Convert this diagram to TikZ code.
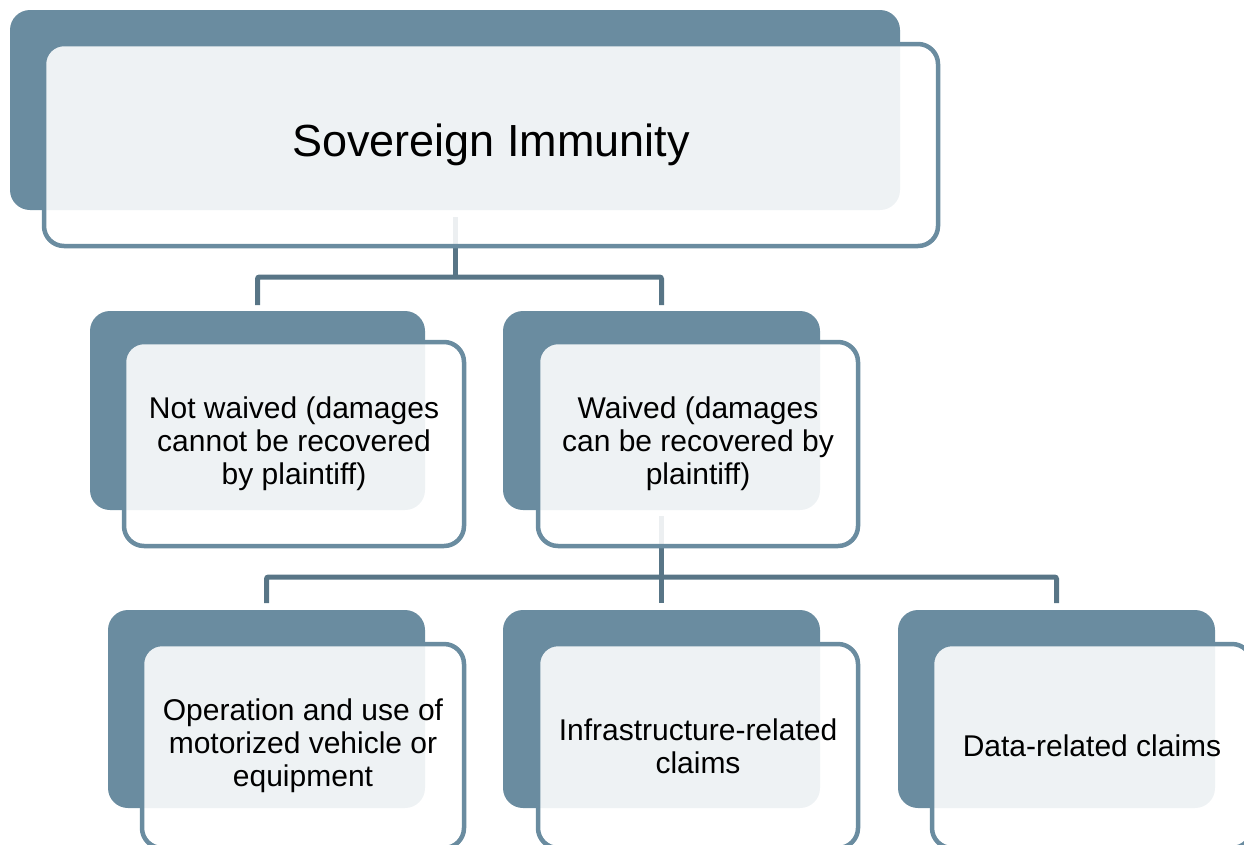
\documentclass[tikz,border=0pt]{standalone}
\usepackage{fontspec}
\setmainfont{Liberation Sans}
\definecolor{slate}{HTML}{6A8CA0}
\definecolor{linkc}{HTML}{587586}
\begin{document}
\begin{tikzpicture}[x=1pt,y=-1pt,
  backbox/.style={fill=slate, rounded corners=20pt, inner sep=0pt, outer sep=0pt},
  frontbox/.style={draw=slate, line width=4.5pt, fill=white, fill opacity=0.89, draw opacity=1, text opacity=1,
    rounded corners=20pt, align=center, inner sep=0pt, outer sep=0pt, text=black},
  link/.style={draw=linkc, line width=5pt, rounded corners=2pt},
  bigtxt/.style={font=\fontsize{45}{54}\selectfont},
  smalltxt/.style={font=\fontsize{30}{33}\selectfont}]
\useasboundingbox (0,0) rectangle (1244,844);
\clip (0,0) rectangle (1244,844);
% back boxes
\node[backbox, minimum width=890pt, minimum height=200pt] (tb) at (455,110) {};
\node[backbox, minimum width=335pt, minimum height=199pt] (b1) at (257.5,410.5) {};
\node[backbox, minimum width=317pt, minimum height=199pt] (b2) at (661.5,410.5) {};
\node[backbox, minimum width=317pt, minimum height=198pt] (ba) at (266.5,709) {};
\node[backbox, minimum width=317pt, minimum height=198pt] (bb) at (661.5,709) {};
\node[backbox, minimum width=317pt, minimum height=198pt] (bc) at (1056.5,709) {};
% connectors
\coordinate (j1) at (455,277);
\coordinate (j2) at (661.5,577);
\draw[link] ([yshift=-7pt]tb.south) -- (j1);
\draw[link] ([yshift=6pt]b1.north) -- (b1.north |- j1) -- (b2.north |- j1) -- ([yshift=6pt]b2.north);
\draw[link] ([yshift=-6pt]b2.south) -- (j2);
\draw[link] ([yshift=7pt]ba.north) -- (ba.north |- j2) -- (bc.north |- j2) -- ([yshift=7pt]bc.north);
\draw[link] (j2) -- ([yshift=7pt]bb.north);
% front boxes
\node[frontbox, bigtxt, minimum width=894pt, minimum height=202pt] (tf) at (491,145) {Sovereign Immunity};
\node[frontbox, smalltxt, minimum width=340pt, minimum height=204pt] (f1) at (294,444) {Not waived (damages\\cannot be recovered\\by plaintiff)};
\node[frontbox, smalltxt, minimum width=320pt, minimum height=204pt] (f2) at (698,444) {Waived (damages\\can be recovered by\\plaintiff)};
\node[frontbox, smalltxt, minimum width=322pt, minimum height=204pt] (fa) at (303,746) {Operation and use of\\motorized vehicle or\\equipment};
\node[frontbox, smalltxt, minimum width=320pt, minimum height=204pt] (fb) at (698,746) {Infrastructure-related\\claims};
\node[frontbox, smalltxt, minimum width=320pt, minimum height=204pt] (fc) at (1092,746) {Data-related claims};
\end{tikzpicture}
\end{document}
